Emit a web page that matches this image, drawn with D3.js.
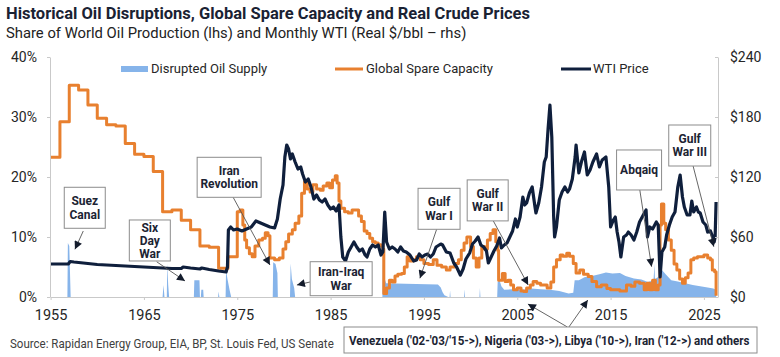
<!DOCTYPE html>
<html><head><meta charset="utf-8">
<script src="https://cdn.jsdelivr.net/npm/d3@7"></script>
<style>
html,body{margin:0;padding:0;background:#fff;}
svg{display:block;font-family:Roboto,"Noto Sans",sans-serif;}
</style></head>
<body><svg id="c" width="780" height="357"></svg>
<script>
// ---------------- DATA ----------------
const xTicks = [1955,1965,1975,1985,1995,2005,2015,2025];
const lhsTicks = [0,10,20,30,40];
const rhsTicks = [0,60,120,180,240];
const seriesNames = ["Disrupted Oil Supply","Global Spare Capacity","WTI Price"];

// WTI real price ($/bbl), decimal year
const wtiYears = [1955,1956.9,1957.1,1957.5,1958,1959,1960,1961,1962,1963,1964,1965,1966,1967,1968,1969,1969.2,1970,1971,1971.2,1972,1973,1973.8,1973.95,
1974.05,1974.3,1974.6,1975,1975.5,1976,1976.5,1977,1977.5,1978,1978.5,1979,1979.3,1979.6,1979.9,1980.1,1980.3,1980.5,1980.7,1980.9,
1981.2,1981.5,1981.8,1982,1982.3,1982.6,1982.9,1983.2,1983.5,1983.8,1984.1,1984.4,1984.7,1985,1985.3,1985.6,1985.9,1986.1,1986.3,1986.6,1986.9,
1987.2,1987.5,1987.8,1988.1,1988.4,1988.7,1988.9,1989.2,1989.5,1989.8,1990.1,1990.4,1990.6,1990.8,1990.9,1991,1991.3,1991.6,1991.9,
1992.2,1992.5,1992.8,1993.1,1993.5,1993.9,1994.2,1994.5,1994.8,1995.1,1995.4,1995.7,1996,1996.3,1996.8,1997,1997.4,1997.8,1998.2,1998.5,1998.9,
1999.2,1999.5,1999.9,2000.2,2000.5,2000.8,2001.1,2001.4,2001.7,2001.9,2002.2,2002.5,2002.8,2003.1,2003.3,2003.6,2003.9,2004.2,2004.5,2004.8,
2005,2005.3,2005.6,2005.8,2006,2006.3,2006.6,2006.9,2007,2007.3,2007.6,2007.9,2008.1,2008.3,2008.5,2008.7,2008.9,2009,2009.2,2009.5,2009.8,
2010.1,2010.4,2010.6,2010.9,2011.2,2011.3,2011.6,2011.9,2012.2,2012.5,2012.8,2013.1,2013.5,2013.8,2014.1,2014.5,2014.8,2015,2015.3,2015.5,2015.7,2015.9,
2016.1,2016.4,2016.7,2016.9,2017.2,2017.5,2017.8,2018.1,2018.5,2018.8,2018.95,2019.2,2019.5,2019.9,2020.1,2020.3,2020.5,2020.8,
2021,2021.3,2021.6,2021.9,2022.2,2022.45,2022.7,2022.9,2023.2,2023.5,2023.7,2023.9,2024.2,2024.4,2024.6,2024.9,2025.2,2025.4,2025.7,2025.9,2026.1,2026.2,2026.3];
const wtiPrice = [33,33,35.5,35,34.5,33.5,32.5,32,31.5,31,30.5,30,29.5,29,28.5,28.5,30,29,28,29,27.5,26,25,30,
67,70,67,68,66,68,70,76,74,72,70,69,78,98,112,140,152,148,138,143,
135,128,130,123,115,118,110,98,102,97,95,98,92,88,90,86,92,60,40,36,45,
50,55,50,46,48,42,40,48,52,50,52,42,45,85,70,55,48,50,48,
45,50,46,45,42,36,37,43,40,42,43,40,43,50,53,52,45,44,34,30,22,
28,38,44,53,56,60,52,50,46,34,40,46,51,59,49,52,54,60,66,78,
70,80,100,92,94,104,110,90,84,94,110,135,140,168,192,160,80,60,70,97,105,
110,105,108,118,140,152,124,136,145,122,127,135,143,130,137,140,110,70,77,80,65,55,
40,60,62,65,62,57,65,75,82,87,60,70,68,75,72,20,45,50,
62,72,80,85,110,122,100,90,82,82,96,85,90,85,84,75,72,65,66,61,55,60,95];

// Global spare capacity (% of world production)
const spareYears = [1955,1956,1957,1958,1959,1960,1961,1962,1963,1964,1965,1966,1967,1968,1969,1970,1971,1972,1973,1974,
1975,1975.3,1975.6,1975.8,1976,1976.3,1976.6,1976.9,1977.3,1977.7,1978,1978.3,1978.5,1979,1979.5,1979.9,1980.2,1980.5,1980.9,
1981.2,1981.6,1981.9,1982.2,1982.5,1982.8,1983.1,1983.5,1983.9,1984.2,1984.6,1984.9,1985.2,1985.5,1985.7,1985.9,1986.1,1986.5,1986.9,
1987.3,1987.7,1988,1988.3,1988.6,1988.9,1989.2,1989.5,1989.8,1990.1,1990.4,1990.6,1990.7,1991,1991.3,1991.6,1991.9,1992.2,1992.6,1992.9,
1993.2,1993.5,1993.8,1994.2,1994.6,1995,1995.5,1996,1996.4,1996.9,1997.4,1997.8,1998.3,1998.7,1999,1999.3,1999.6,2000,2000.3,2000.6,2000.9,
2001.2,2001.5,2001.8,2002.1,2002.4,2002.7,2002.9,2003,2003.4,2003.7,2004,2004.3,2004.6,2005,2005.4,2005.7,2006,2006.4,2006.7,2007.1,2007.5,2007.8,
2008.2,2008.6,2008.9,2009.2,2009.6,2009.9,2010.3,2010.6,2011,2011.3,2011.7,2012.1,2012.6,2013,2013.5,2014,2014.6,2015,2015.6,2016,2016.7,
2017.2,2017.6,2018.1,2018.6,2018.9,2019.2,2019.5,2019.8,2020.1,2020.3,2020.45,2020.7,2020.9,2021.2,2021.5,2021.8,2022.1,2022.4,2022.7,
2023,2023.3,2023.6,2023.9,2024.3,2024.6,2025,2025.4,2025.7,2025.9,2026.15,2026.3];
const spareCap = [23.3,29.2,35.3,34.5,32.0,29.8,28.7,28.5,25.6,23.8,23.4,20.9,14.2,14.5,12.8,11.2,8.5,8.3,4.8,6.7,
14.2,14.5,12,9.5,8.2,7.2,6.7,8.5,9.5,9.8,10.7,10.2,6.5,6.2,6.5,8,9.2,10.5,11.2,
12.3,13.5,17.3,19.2,18,17.5,18.7,18,17.8,18.5,19,18.2,19.5,20.2,19,16,14.8,14.2,14,
14.5,14.5,13.5,12.6,11,10.6,9.8,9.2,9,8.7,8.5,8,0.6,1.5,2.8,2.5,3.5,3.8,3.9,5,
6.7,6,6.2,6.7,6.2,5.6,5.4,6.2,5.3,5,4.5,5,5.6,6.2,7.8,9,10,8.4,6.5,5,6.5,
8.4,8,9.5,10.6,11.2,9.2,7.8,2.8,3.9,2.6,2.8,2,1.2,1.5,1,0.9,1.5,2,2.6,2.3,2,2,
1.5,2.5,5,6.2,7,6.8,7.3,6.8,5.6,4,4.5,3.8,3.4,2.6,1.7,2,1.4,1.2,1.2,1,2,
1.8,2.5,2.3,1.2,2.3,1.2,2.8,1.2,2,12,15.5,12.3,11.2,9.5,7.8,5.5,4.5,3,2.3,
3.2,4,6.2,6.5,6.7,6.7,7,6.5,6.2,4.5,4.2,0.2];

// Disrupted oil supply (% of world production)
const disruptYears = [1955,1956.8,1956.85,1957,1957.15,1967,1967.1,1967.2,1967.45,1967.5,1967.6,1967.7,
1970.35,1970.4,1970.95,1971,1971.1,1971.15,1971.35,1971.4,1972.95,1973,1973.08,1973.75,1973.8,1973.95,1974.2,1974.35,
1978.8,1978.85,1979.1,1979.3,1979.35,1980.65,1980.72,1980.85,1981.1,1981.2,
1990.55,1990.6,1990.7,1990.8,1990.95,1993,1996.5,1996.8,1997,1997.2,1997.6,1997.75,1997.8,1997.85,1999.3,1999.35,1999.4,2000.95,2001,2001.05,
2002.85,2002.9,2003.1,2003.3,2003.6,2004.5,2005.5,2006.5,2007.5,2008.5,2009.5,2010,2010.5,2011,2011.15,2011.6,2012.2,2013,2013.8,2014.5,2015.2,2016,2016.6,
2017.5,2018.3,2019,2019.6,2019.7,2019.75,2020.2,2020.5,2020.9,2021.5,2022.2,2023,2023.8,2024.6,2025.4,2026,2026.3,2026.31];
const disruptShare = [0,0,9,8.5,0,0,2,0,0,5.6,2,0,
0,2.8,2.8,0,0,1.2,1.2,0,0,0.9,0,0,4.5,3,1,0,
0,5.8,5.5,4,0,0,5.6,3,1.5,0,
0,7.5,6,3,2.3,2.2,2.1,1.6,0.8,0.3,0,0,1.1,0,0,1.3,0,0,1.5,0,
0,2.5,2.8,1.8,1.2,1.3,1.2,1.4,1.3,1.2,1,0.8,0.6,0.7,2.8,2.8,3.3,3.5,3.8,4.1,3.9,4,3.5,
3.1,2.9,2.5,2.8,5.5,3,3.4,4.5,3.8,2.8,2.6,2.3,2,1.8,1.6,1.4,1.2,0];

// Annotations (data coordinates: year, % of lhs)
const annotations = [
  {lines:["Suez","Canal"], cx:1958.66, cy:14.87, w:41, h:41, from:[1958.5,11.0], to:[1957.61,7.95]},
  {lines:["Six","Day","War"], cx:1965.63, cy:9.42, w:41, h:41, from:[1966.36,5.88], to:[1969.4,2.67]},
  {lines:["Iran","Revolution"], cx:1974.13, cy:19.95, w:64, h:40, from:[1974.54,16.67], to:[1978.5,5.33]},
  {lines:["Iran-Iraq","War"], cx:1986.13, cy:3.05, w:62, h:34, from:[1982.79,2.5], to:[1981.39,2.0]},
  {lines:["Gulf","War I"], cx:1996.62, cy:14.7, w:42, h:41, from:[1996.36,11.28], to:[1994.57,3.12]},
  {lines:["Gulf","War II"], cx:2001.83, cy:16.1, w:41, h:41, from:[2002.42,12.72], to:[2006.17,2.0]},
  {lines:["Abqaiq"], cx:2018.05, cy:21.17, w:45, h:40, from:[2018.13,17.83], to:[2019.39,5.05]},
  {lines:["Gulf","War III"], cx:2023.48, cy:25.25, w:42, h:41, from:[2023.84,21.83], to:[2026.06,8.38]}
];
const bottomNote = "Venezuela ('02-'03/'15->), Nigeria ('03->), Libya ('10->), Iran ('12->) and others";
const bottomArrows = [{from:[2010.37,-5.0], to:[2006.14,-1.17]},{from:[2010.53,-5.0], to:[2012.56,-0.5]}];
const sourceNote = "Source: Rapidan Energy Group, EIA, BP, St. Louis Fed, US Senate";

// ---------------- CHART ----------------
const svg = d3.select("#c");
const C = {blue:"#86b4ea", orange:"#e8802f", navy:"#0f1f3c", text:"#262626", axis:"#c9c9c9"};

const x = d3.scaleLinear().domain([1955, 2026.4]).range([50.6, 717]);
const yL = d3.scaleLinear().domain([0, 40]).range([297, 57]);
const yR = d3.scaleLinear().domain([0, 240]).range([297, 57]);

svg.append("rect").attr("width",780).attr("height",357).attr("fill","#fff");

// title
svg.append("text").attr("x",6).attr("y",19).attr("font-size",16.5).attr("font-weight",700)
  .attr("fill","#1a2233").text("Historical Oil Disruptions, Global Spare Capacity and Real Crude Prices");
svg.append("text").attr("x",6).attr("y",38).attr("font-size",14.8).attr("fill","#222")
  .text("Share of World Oil Production (lhs) and Monthly WTI (Real $/bbl – rhs)");

// defs
const defs = svg.append("defs");
defs.append("marker").attr("id","ah").attr("viewBox","0 0 10 10").attr("refX",10).attr("refY",5)
  .attr("markerWidth",9).attr("markerHeight",8).attr("markerUnits","userSpaceOnUse").attr("orient","auto")
  .append("path").attr("d","M0,0L10,5L0,10Z").attr("fill","#141c2c");

// disrupted area
const disrupt = disruptYears.map((d,i)=>({x:d,v:disruptShare[i]}));
svg.append("path").datum(disrupt)
  .attr("d", d3.area().x(d=>x(d.x)).y0(yL(0)).y1(d=>yL(d.v)))
  .attr("fill", C.blue);

// spare capacity
const spare = spareYears.map((d,i)=>({x:d,v:spareCap[i]}));
svg.append("path").datum(spare)
  .attr("d", d3.line().x(d=>x(d.x)).y(d=>yL(d.v)).curve(d3.curveStepAfter))
  .attr("fill","none").attr("stroke",C.orange).attr("stroke-width",3).attr("stroke-linejoin","round");

// WTI
const wti = wtiYears.map((d,i)=>({x:d,v:wtiPrice[i]}));
svg.append("path").datum(wti)
  .attr("d", d3.line().x(d=>x(d.x)).y(d=>yR(d.v)))
  .attr("fill","none").attr("stroke",C.navy).attr("stroke-width",3.2).attr("stroke-linejoin","round");

// axes
function styleAxis(g){
  g.select(".domain").attr("stroke",C.axis);
  g.selectAll(".tick line").attr("stroke",C.axis);
  g.selectAll(".tick text").attr("fill",C.text).attr("font-family","Roboto,sans-serif");
}
svg.append("g").attr("transform","translate(50,0)")
  .call(d3.axisLeft(yL).tickValues(lhsTicks).tickFormat(d=>d+"%").tickSizeInner(3).tickSizeOuter(0).tickPadding(10))
  .call(g=>g.selectAll("text").attr("font-size",14))
  .call(styleAxis);
svg.append("g").attr("transform","translate(718,0)")
  .call(d3.axisRight(yR).tickValues(rhsTicks).tickFormat(d=>"$"+d).tickSizeInner(-3).tickSizeOuter(0).tickPadding(12))
  .call(g=>g.selectAll("text").attr("font-size",14))
  .call(styleAxis);
svg.append("g").attr("transform","translate(0,297)")
  .call(d3.axisBottom(x).tickValues(xTicks).tickFormat(d3.format("d")).tickSizeInner(3).tickSizeOuter(0).tickPadding(10))
  .call(g=>g.selectAll("text").attr("font-size",14.5))
  .call(styleAxis);

// legend
const lg = svg.append("g").attr("font-size",13).attr("fill",C.text);
lg.append("rect").attr("x",121).attr("y",66).attr("width",27).attr("height",6).attr("fill",C.blue);
lg.append("text").attr("x",151).attr("y",73).text(seriesNames[0]);
lg.append("line").attr("x1",335).attr("x2",363).attr("y1",69).attr("y2",69).attr("stroke",C.orange).attr("stroke-width",3);
lg.append("text").attr("x",366).attr("y",73).text(seriesNames[1]);
lg.append("line").attr("x1",561).attr("x2",591).attr("y1",69).attr("y2",69).attr("stroke",C.navy).attr("stroke-width",3);
lg.append("text").attr("x",593).attr("y",73).text(seriesNames[2]);

// annotations
const ag = svg.append("g");
annotations.forEach(a=>{
  const cx = x(a.cx), cy = yL(a.cy);
  ag.append("line").attr("x1",x(a.from[0])).attr("y1",yL(a.from[1])).attr("x2",x(a.to[0])).attr("y2",yL(a.to[1]))
    .attr("stroke","#555").attr("stroke-width",0.9).attr("marker-end","url(#ah)");
  ag.append("rect").attr("x",cx-a.w/2).attr("y",cy-a.h/2).attr("width",a.w).attr("height",a.h)
    .attr("fill","#fff").attr("stroke","#8c8c8c").attr("stroke-width",1);
  const n = a.lines.length, lh = 13.3;
  a.lines.forEach((t,i)=>{
    ag.append("text").attr("x",cx).attr("y",cy + (i-(n-1)/2)*lh).attr("dy","0.36em")
      .attr("text-anchor","middle").attr("font-size",12).attr("font-weight",700).attr("fill","#1c2433").text(t);
  });
});

// squeeze a text horizontally to a target width (condensed look)
function fitText(g, str, x0, yc, width, size, weight, fill){
  const t = g.append("text").attr("x",0).attr("y",0).attr("dy","0.36em").attr("font-size",size)
    .attr("font-weight",weight).attr("fill",fill).text(str);
  const w = t.node().getComputedTextLength();
  const s = Math.min(1, width / w);
  t.attr("transform", `translate(${x0},${yc}) scale(${s},1)`);
  return t;
}

// bottom note box
bottomArrows.forEach(a=>{
  ag.append("line").attr("x1",x(a.from[0])).attr("y1",yL(a.from[1])).attr("x2",x(a.to[0])).attr("y2",yL(a.to[1]))
    .attr("stroke","#555").attr("stroke-width",0.9).attr("marker-end","url(#ah)");
});
ag.append("rect").attr("x",344).attr("y",327).attr("width",413).attr("height",26)
  .attr("fill","#fff").attr("stroke","#8c8c8c").attr("stroke-width",1);
fitText(ag, bottomNote, 349, 340.5, 401, 12.5, 700, "#1c2433");

// source
fitText(svg, sourceNote, 10, 343, 324, 12.5, 400, "#404040");
</script></body></html>
